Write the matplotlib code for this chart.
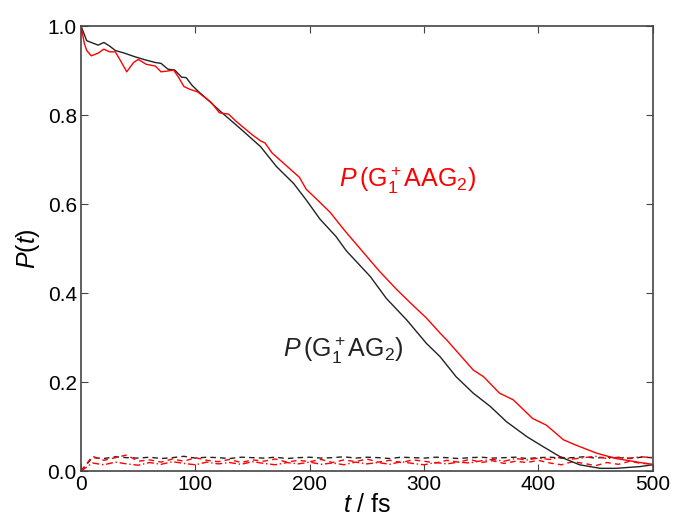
import numpy as np
import matplotlib
matplotlib.use("Agg")
import matplotlib.pyplot as plt

plt.rcParams['font.family'] = ['Liberation Sans', 'DejaVu Sans']
plt.rcParams['mathtext.fontset'] = 'custom'
plt.rcParams['mathtext.rm'] = 'Liberation Sans'
plt.rcParams['mathtext.it'] = 'Liberation Sans:italic'

# P(G1+AG2) - black solid
t_ag = [0, 5, 10, 15, 20, 25, 30, 38, 47, 56, 65, 70, 76, 82, 88, 92, 97, 103, 111,
        122, 140, 157, 171, 186, 197, 209, 223, 232, 253, 267, 285, 302, 314, 328,
        343, 358, 372, 390, 404, 419, 436, 454, 468, 489, 500]
p_ag = [1.0, 0.967, 0.962, 0.957, 0.963, 0.955, 0.945, 0.939, 0.931, 0.924, 0.918,
        0.916, 0.903, 0.901, 0.885, 0.884, 0.867, 0.852, 0.834, 0.808, 0.768, 0.729,
        0.684, 0.646, 0.609, 0.566, 0.527, 0.495, 0.437, 0.388, 0.339, 0.287, 0.257,
        0.212, 0.175, 0.145, 0.111, 0.077, 0.055, 0.032, 0.014, 0.006, 0.006, 0.010,
        0.014]

# P(G1+AAG2) - red solid
t_aag = [0, 3, 5, 9, 15, 20, 25, 30, 35, 40, 46, 50, 57, 65, 70, 76, 81, 85, 90, 95,
         102, 108, 114, 121, 129, 136, 143, 150, 157, 161, 167, 177, 184, 191, 197,
         206, 218, 226, 232, 247, 261, 276, 288, 302, 314, 320, 331, 343, 352, 366,
         378, 395, 407, 422, 433, 451, 468, 489, 500]
p_aag = [1.0, 0.96, 0.945, 0.933, 0.939, 0.948, 0.942, 0.942, 0.92, 0.897, 0.918,
         0.925, 0.914, 0.910, 0.897, 0.899, 0.901, 0.886, 0.864, 0.858, 0.852, 0.84,
         0.828, 0.805, 0.802, 0.785, 0.77, 0.755, 0.742, 0.737, 0.715, 0.692, 0.676,
         0.660, 0.633, 0.611, 0.581, 0.555, 0.536, 0.491, 0.449, 0.408, 0.378, 0.344,
         0.310, 0.294, 0.262, 0.227, 0.212, 0.175, 0.16, 0.118, 0.103, 0.07, 0.058,
         0.04, 0.028, 0.019, 0.015]

# small populations on other sites
t_small = list(range(0, 501, 10))
p_black_dash = [0.0, 0.030, 0.028, 0.032, 0.030, 0.029, 0.031, 0.028, 0.030, 0.033,
                0.029, 0.031, 0.030, 0.028, 0.031, 0.030, 0.029, 0.031, 0.028, 0.030,
                0.031, 0.029, 0.030, 0.032, 0.029, 0.031, 0.030, 0.028, 0.031, 0.030,
                0.029, 0.031, 0.030, 0.028, 0.030, 0.031, 0.029, 0.030, 0.031, 0.028,
                0.030, 0.031, 0.029, 0.030, 0.032, 0.029, 0.031, 0.030, 0.028, 0.031,
                0.030]
p_red_dash = [0.0, 0.033, 0.024, 0.030, 0.036, 0.022, 0.025, 0.020, 0.027, 0.022,
              0.030, 0.024, 0.021, 0.026, 0.019, 0.025, 0.022, 0.027, 0.020, 0.024,
              0.021, 0.026, 0.019, 0.025, 0.021, 0.027, 0.020, 0.024, 0.019, 0.025,
              0.022, 0.018, 0.024, 0.020, 0.026, 0.019, 0.023, 0.017, 0.022, 0.019,
              0.024, 0.018, 0.014, 0.021, 0.017, 0.012, 0.019, 0.015, 0.022, 0.017,
              0.016]
p_red_dashdot = [0.0, 0.018, 0.014, 0.020, 0.016, 0.013, 0.019, 0.015, 0.021, 0.017,
                 0.014, 0.020, 0.016, 0.019, 0.015, 0.021, 0.017, 0.014, 0.019, 0.016,
                 0.020, 0.015, 0.018, 0.014, 0.020, 0.016, 0.019, 0.015, 0.021, 0.017,
                 0.014, 0.019, 0.016, 0.020, 0.018, 0.023, 0.026, 0.022, 0.028, 0.025,
                 0.029, 0.026, 0.031, 0.027, 0.030, 0.033, 0.028, 0.031, 0.029, 0.032,
                 0.030]

fig = plt.figure(figsize=(6.75, 5.16), dpi=100)
ax = fig.add_axes([0.12, 0.0872, 0.847, 0.8624])

ax.plot(t_small, p_black_dash, color='#222222', lw=1, ls=(0, (4, 3)))
ax.plot(t_small, p_red_dash, color='red', lw=1, ls=(0, (4, 3)))
ax.plot(t_small, p_red_dashdot, color='red', lw=1, ls=(0, (5, 2, 1, 2)))
ax.plot(t_ag, p_ag, color='#222222', lw=1.0)
ax.plot(t_aag, p_aag, color='red', lw=1.0)

ax.text(226, 0.654, r'$\mathit{P}\,$(G$_1^+$AAG$_2$)', color='red', fontsize=18,
        va='center', ha='left')
ax.text(177, 0.272, r'$\mathit{P}\,$(G$_1^+$AG$_2$)', color='#222222', fontsize=18,
        va='center', ha='left')

ax.set_xlim(0, 500)
ax.set_ylim(0, 1.0)
ax.set_xticks([0, 100, 200, 300, 400, 500])
ax.set_yticks([0.0, 0.2, 0.4, 0.6, 0.8, 1.0])
ax.set_yticklabels(['0.0', '0.2', '0.4', '0.6', '0.8', '1.0'])
ax.tick_params(direction='in', top=True, right=True, labelsize=15, length=5,
               color='#444444', pad=3)
for s in ax.spines.values():
    s.set_color('#444444')
    s.set_linewidth(1.2)

ax.set_xlabel(r'$\mathit{t}$ / fs', fontsize=18, labelpad=-1)
ax.set_ylabel(r'$\mathit{P}$($\mathit{t}$)', fontsize=18, labelpad=4)

fig.savefig('out.png', dpi=100)
